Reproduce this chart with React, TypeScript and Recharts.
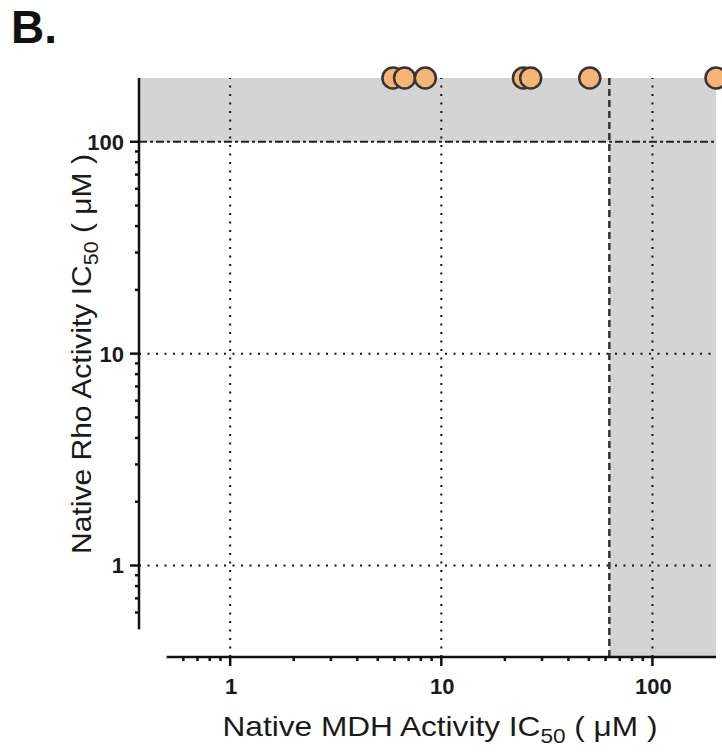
import { ScatterChart, Scatter, XAxis, YAxis, ReferenceArea, ReferenceLine } from "recharts";

// IC50 values (µM); 200 = above top of tested range
const mdhIC50 = [5.9, 6.7, 8.4, 24.5, 26.5, 50.5, 200];
const rhoIC50 = [200, 200, 200, 200, 200, 200, 200];

const majorTicks = [1, 10, 100];
const minorTicks = [0.6, 0.7, 0.8, 0.9, 2, 3, 4, 5, 6, 7, 8, 9, 20, 30, 40, 50, 60, 70, 80, 90];
const mdhCutoff = 62.5;
const rhoCutoff = 100;

const axisMin = 0.5;
const axisMax = 200;
const plotMin = 0.37; // offset axes: plot area runs a bit past the axis start

const allTicks = [...minorTicks, ...majorTicks].sort((a, b) => a - b);
const compounds = mdhIC50.map((mdh, i) => ({ mdh, rho: rhoIC50[i] }));

const FONT = "'Liberation Sans', Arial, Helvetica, sans-serif";
const INK = "#111";

function XTick({ x, y, payload }: any) {
  const major = majorTicks.includes(payload.value);
  return (
    <g>
      <line x1={x} y1={y} x2={x} y2={y + (major ? 9 : 4)} stroke={INK} strokeWidth={2.5} />
      {major && (
        <text x={x + 1} y={y + 37} textAnchor="middle" fontSize={22} fontWeight={700} fill="#1a1a1a" fontFamily={FONT}>
          {payload.value}
        </text>
      )}
    </g>
  );
}

function YTick({ x, y, payload }: any) {
  const major = majorTicks.includes(payload.value);
  return (
    <g>
      <line x1={x - (major ? 9 : 4)} y1={y} x2={x} y2={y} stroke={INK} strokeWidth={2.5} />
      {major && (
        <text x={x - 15} y={y} dy="0.36em" textAnchor="end" fontSize={22} fontWeight={700} fill="#1a1a1a" fontFamily={FONT}>
          {payload.value}
        </text>
      )}
    </g>
  );
}

const XTitle = () => (
  <text
    x={440}
    y={736}
    textAnchor="middle"
    fontSize={28}
    fill="#1a1a1a"
    fontFamily={FONT}
    textLength={435}
    lengthAdjust="spacingAndGlyphs"
  >
    Native MDH Activity IC
    <tspan dy={7} fontSize={20}>50</tspan>
    <tspan dy={-7}> ( μM )</tspan>
  </text>
);

const YTitle = () => (
  <text
    x={0}
    y={0}
    transform="translate(91,354) rotate(-90)"
    textAnchor="middle"
    fontSize={28}
    fill="#1a1a1a"
    fontFamily={FONT}
    textLength={400}
    lengthAdjust="spacingAndGlyphs"
  >
    Native Rho Activity IC
    <tspan dy={7} fontSize={20}>50</tspan>
    <tspan dy={-7}> ( μM )</tspan>
  </text>
);

const Dot = (p: any) => (
  <circle cx={p.cx} cy={p.cy} r={10.5} fill="#F5B478" stroke="#353535" strokeWidth={2.5} />
);

export default function App() {
  return (
    <div style={{ position: "relative", width: 722, height: 752, background: "#fff" }}>
      <style>{"body{margin:0}"}</style>
      <div
        style={{
          position: "absolute",
          left: 11,
          top: 4,
          fontFamily: FONT,
          fontWeight: 700,
          fontSize: 46,
          lineHeight: 1,
          color: "#111",
        }}
      >
        B.
      </div>
      <ScatterChart width={722} height={752} margin={{ top: 78, right: 6, left: 0, bottom: 0 }}>
        <XAxis
          type="number"
          dataKey="mdh"
          scale="log"
          domain={[plotMin, axisMax]}
          ticks={allTicks}
          interval={0}
          axisLine={false}
          tickLine={false}
          tickSize={0}
          tickMargin={0}
          height={95}
          tick={<XTick />}
          label={{ content: () => <XTitle /> }}
        />
        <YAxis
          type="number"
          dataKey="rho"
          scale="log"
          domain={[plotMin, axisMax]}
          ticks={allTicks}
          interval={0}
          axisLine={false}
          tickLine={false}
          tickSize={0}
          tickMargin={0}
          width={139}
          tick={<YTick />}
          label={{ content: () => <YTitle /> }}
        />
        <ReferenceArea y1={rhoCutoff} y2={axisMax} fill="#d4d4d4" fillOpacity={1} stroke="none" />
        <ReferenceArea x1={mdhCutoff} x2={axisMax} fill="#d4d4d4" fillOpacity={1} stroke="none" />
        {majorTicks.map((v) => (
          <ReferenceLine key={`vx${v}`} x={v} stroke={INK} strokeWidth={2} strokeDasharray="2 6.5" />
        ))}
        {majorTicks.slice(0, 2).map((v) => (
          <ReferenceLine key={`hy${v}`} y={v} stroke={INK} strokeWidth={2} strokeDasharray="2 6.5" />
        ))}
        <ReferenceLine y={rhoCutoff} stroke="#222" strokeWidth={2} strokeDasharray="8 3 3 3" />
        <ReferenceLine x={mdhCutoff} stroke="#333" strokeWidth={2.5} strokeDasharray="7 4" />
        <ReferenceLine
          segment={[{ x: axisMin, y: plotMin }, { x: axisMax, y: plotMin }]}
          stroke={INK}
          strokeWidth={2.5}
          ifOverflow="visible"
        />
        <ReferenceLine
          segment={[{ x: plotMin, y: axisMin }, { x: plotMin, y: axisMax }]}
          stroke={INK}
          strokeWidth={2.5}
          ifOverflow="visible"
        />
        <Scatter data={compounds} shape={<Dot />} isAnimationActive={false} />
      </ScatterChart>
    </div>
  );
}
